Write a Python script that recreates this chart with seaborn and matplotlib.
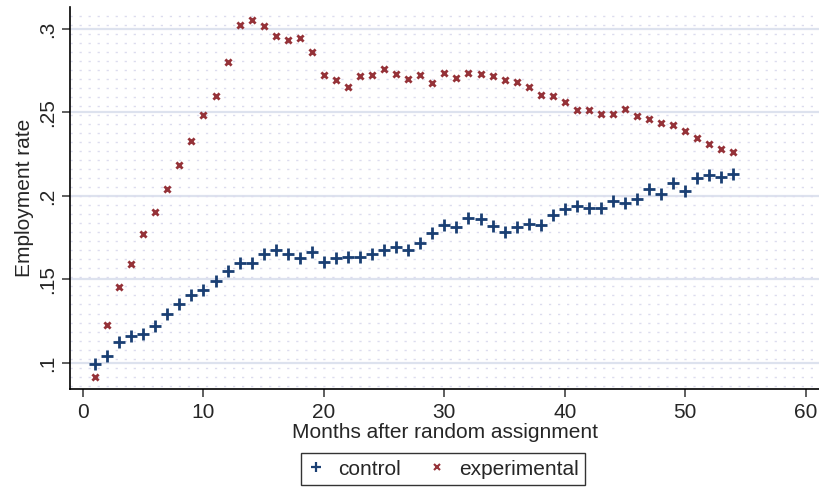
import numpy as np
import pandas as pd
import seaborn as sns
import matplotlib
matplotlib.use('Agg')
import matplotlib.pyplot as plt
from matplotlib.ticker import MultipleLocator
from matplotlib.lines import Line2D

# months since random assignment
months = list(range(1, 55))
# employment rate, control group
control = [0.0996, 0.1044, 0.1124, 0.1164, 0.1176, 0.1220, 0.1294, 0.1352, 0.1406, 0.1434,
           0.1490, 0.1552, 0.1596, 0.1596, 0.1652, 0.1676, 0.1650, 0.1628, 0.1662, 0.1604,
           0.1626, 0.1634, 0.1634, 0.1650, 0.1676, 0.1692, 0.1677, 0.1719, 0.1779, 0.1826,
           0.1814, 0.1866, 0.1860, 0.1820, 0.1782, 0.1815, 0.1832, 0.1826, 0.1887, 0.1923,
           0.1939, 0.1927, 0.1929, 0.1971, 0.1956, 0.1980, 0.2040, 0.2013, 0.2079, 0.2028,
           0.2107, 0.2125, 0.2113, 0.2131]
# employment rate, experimental group
experimental = [0.0918, 0.1226, 0.1456, 0.1592, 0.1770, 0.1902, 0.2043, 0.2187, 0.2329, 0.2485,
                0.2597, 0.2803, 0.3025, 0.3055, 0.3019, 0.2955, 0.2935, 0.2948, 0.2861, 0.2723,
                0.2691, 0.2655, 0.2717, 0.2721, 0.2759, 0.2729, 0.2701, 0.2721, 0.2675, 0.2735,
                0.2705, 0.2735, 0.2727, 0.2715, 0.2695, 0.2681, 0.2653, 0.2605, 0.2599, 0.2561,
                0.2513, 0.2515, 0.2491, 0.2493, 0.2521, 0.2479, 0.2461, 0.2439, 0.2427, 0.2391,
                0.2347, 0.2309, 0.2279, 0.2261]
xticks = [0, 10, 20, 30, 40, 50, 60]
yticks = [0.1, 0.15, 0.2, 0.25, 0.3]
ytick_labels = ['.1', '.15', '.2', '.25', '.3']

df = pd.DataFrame({'month': months, 'control': control, 'experimental': experimental})

navy = '#1a3f73'
maroon = '#953238'

sns.set_style('ticks')
plt.rcParams['font.family'] = ['Liberation Sans', 'DejaVu Sans']

fig = plt.figure(figsize=(8.19, 4.9), dpi=100)
ax = fig.add_axes([70 / 819, 1 - 389 / 490, 749 / 819, 382 / 490])

# faint dotted background texture
ax.yaxis.set_minor_locator(MultipleLocator(0.0054))
ax.grid(which='minor', axis='y', color='#dcdcee', linewidth=1.0, linestyle=(0, (1.6, 4.9)))
ax.grid(which='major', axis='y', color='#dde2ee', linewidth=1.6, linestyle='-')
ax.grid(which='major', axis='x', visible=False)
ax.set_axisbelow(True)

sns.scatterplot(data=df, x='month', y='control', marker='+', s=85, linewidth=2.0,
                color=navy, ax=ax, zorder=3)
sns.scatterplot(data=df, x='month', y='experimental', marker='x', s=20, linewidth=2.0,
                color=maroon, ax=ax, zorder=3)

ax.set_xlim(-1.08, 61.1)
ax.set_ylim(0.0844, 0.3131)
ax.set_xticks(xticks)
ax.set_xticklabels([str(t) for t in xticks])
ax.set_yticks(yticks)
ax.set_yticklabels(ytick_labels)
plt.setp(ax.get_yticklabels(), rotation=90, va='center')
ax.tick_params(axis='both', which='major', length=6, width=1.1, color='#333333',
               labelsize=15, pad=4)
ax.tick_params(axis='y', which='minor', length=0)
ax.tick_params(axis='y', which='major', pad=3)

sns.despine(ax=ax, top=True, right=True)
ax.spines['left'].set_linewidth(1.2)
ax.spines['bottom'].set_linewidth(1.2)
ax.spines['left'].set_color('black')
ax.spines['bottom'].set_color('black')

ax.set_xlabel('Months after random assignment', fontsize=15, labelpad=1)
ax.set_ylabel('Employment rate', fontsize=15, labelpad=3)

handles = [Line2D([], [], marker='+', linestyle='none', color=navy, markersize=7, markeredgewidth=1.6),
           Line2D([], [], marker='x', linestyle='none', color=maroon, markersize=4, markeredgewidth=1.5)]
leg = fig.legend(handles, ['control', 'experimental'], ncol=2, loc='center',
                 bbox_to_anchor=(443 / 819, 1 - 469 / 490), fontsize=15, frameon=True,
                 fancybox=False, edgecolor='black', handlelength=0.9, handletextpad=0.6,
                 columnspacing=1.3, borderpad=0.3)
leg.get_frame().set_linewidth(1.0)

fig.savefig('out.png', dpi=100)
